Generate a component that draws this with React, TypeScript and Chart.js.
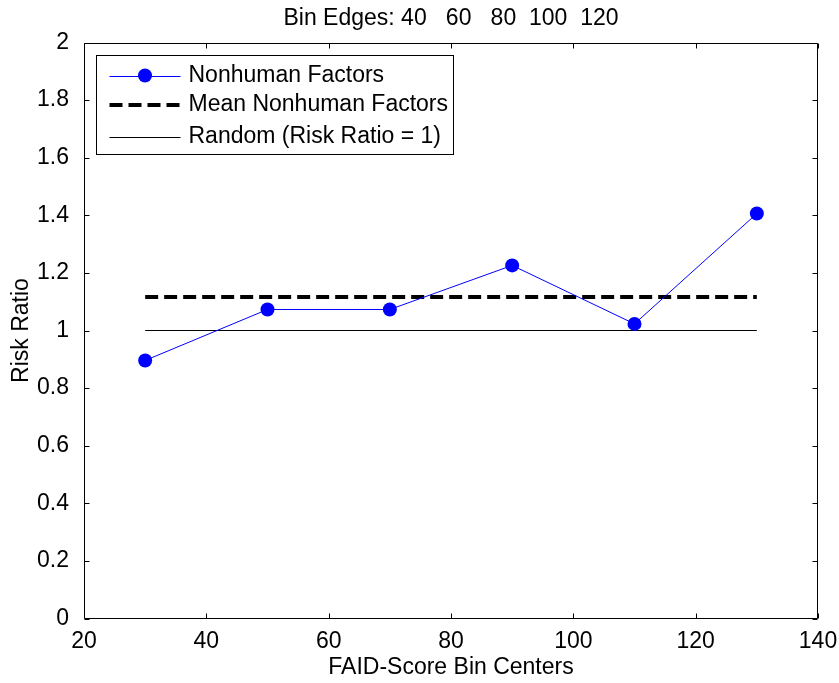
import React, { useEffect, useRef } from 'react';
import { Chart, registerables } from 'chart.js';

Chart.register(...registerables);

// ---- data ----
const binCenters = [30, 50, 70, 90, 110, 130];
const nonhumanRR = [0.896, 1.073, 1.073, 1.226, 1.023, 1.406];
const meanLineX = [30, 130];
const meanLineY = [1.116, 1.116];
const randomLineX = [30, 130];
const randomLineY = [1, 1];
const legendLabels = ['Nonhuman Factors', 'Mean Nonhuman Factors', 'Random (Risk Ratio = 1)'];
const titleText = 'Bin Edges: 40   60   80  100  120';
const xLabel = 'FAID-Score Bin Centers';
const yLabel = 'Risk Ratio';

const FONT = '"Liberation Sans", Arial, Helvetica, sans-serif';
const FS = 23;
const BLUE = '#0000ff';

const framePlugin = {
  id: 'matlabFrame',
  afterDatasetsDraw(chart: any) {
    const { ctx, chartArea: a, scales } = chart;
    ctx.save();
    ctx.strokeStyle = '#000';
    ctx.lineWidth = 1;
    ctx.setLineDash([]);
    const L = Math.round(a.left) + 0.5;
    const R = Math.round(a.right) - 0.5;
    const T = Math.round(a.top) + 0.5;
    const B = Math.round(a.bottom) - 0.5;
    ctx.beginPath();
    ctx.rect(L, T, R - L, B - T);
    ctx.stroke();
    const len = 5;
    ctx.beginPath();
    scales.x.ticks.forEach((t: any) => {
      const px = Math.round(scales.x.getPixelForValue(t.value)) + 0.5;
      ctx.moveTo(px, B);
      ctx.lineTo(px, B - len);
      ctx.moveTo(px, T);
      ctx.lineTo(px, T + len);
    });
    scales.y.ticks.forEach((t: any) => {
      const py = Math.round(scales.y.getPixelForValue(t.value)) + 0.5;
      ctx.moveTo(L, py);
      ctx.lineTo(L + len, py);
      ctx.moveTo(R, py);
      ctx.lineTo(R - len, py);
    });
    ctx.stroke();

    // legend box
    ctx.font = `${FS}px ${FONT}`;
    const maxW = Math.max(...legendLabels.map((s) => ctx.measureText(s).width));
    const bx = Math.round(a.left + 12) + 0.5;
    const by = Math.round(a.top + 12) + 0.5;
    const bw = Math.round(92 + maxW + 5);
    const bh = 99;
    ctx.fillStyle = '#fff';
    ctx.fillRect(bx, by, bw, bh);
    ctx.strokeStyle = '#000';
    ctx.lineWidth = 1;
    ctx.strokeRect(bx, by, bw, bh);
    const sx0 = bx + 13;
    const sx1 = bx + 84;
    const rows = [by + 20, by + 49.5, by + 81];
    // row 1
    ctx.strokeStyle = BLUE;
    ctx.lineWidth = 1;
    ctx.beginPath();
    ctx.moveTo(sx0, Math.round(rows[0]) + 0.5);
    ctx.lineTo(sx1, Math.round(rows[0]) + 0.5);
    ctx.stroke();
    ctx.fillStyle = BLUE;
    ctx.beginPath();
    ctx.arc((sx0 + sx1) / 2, rows[0], 7, 0, Math.PI * 2);
    ctx.fill();
    // row 2
    ctx.strokeStyle = '#000';
    ctx.lineWidth = 4;
    ctx.setLineDash([13, 6]);
    ctx.beginPath();
    ctx.moveTo(sx0, rows[1]);
    ctx.lineTo(sx1, rows[1]);
    ctx.stroke();
    ctx.setLineDash([]);
    // row 3
    ctx.lineWidth = 1;
    ctx.beginPath();
    ctx.moveTo(sx0, Math.round(rows[2]) + 0.5);
    ctx.lineTo(sx1, Math.round(rows[2]) + 0.5);
    ctx.stroke();
    // labels
    ctx.fillStyle = '#000';
    ctx.textAlign = 'left';
    ctx.textBaseline = 'middle';
    legendLabels.forEach((s, i) => ctx.fillText(s, bx + 92, rows[i]));
    ctx.restore();
  },
};

export default function App() {
  const ref = useRef<HTMLCanvasElement | null>(null);
  useEffect(() => {
    if (!ref.current) return;
    const chart = new Chart(ref.current, {
      type: 'line',
      data: {
        datasets: [
          {
            label: legendLabels[0],
            data: binCenters.map((x, i) => ({ x, y: nonhumanRR[i] })),
            borderColor: BLUE,
            backgroundColor: BLUE,
            borderWidth: 1,
            pointRadius: 7,
            pointBorderWidth: 0,
            pointBackgroundColor: BLUE,
            tension: 0,
            order: 0,
          },
          {
            label: legendLabels[1],
            data: meanLineX.map((x, i) => ({ x, y: meanLineY[i] })),
            borderColor: '#000',
            borderWidth: 4,
            borderDash: [13, 6],
            pointRadius: 0,
            tension: 0,
            order: 1,
          },
          {
            label: legendLabels[2],
            data: randomLineX.map((x, i) => ({ x, y: randomLineY[i] })),
            borderColor: '#000',
            borderWidth: 1,
            pointRadius: 0,
            tension: 0,
            order: 2,
          },
        ],
      },
      options: {
        animation: false,
        responsive: false,
        layout: { padding: { left: 0, right: 21, top: 0, bottom: 0 } },
        plugins: {
          legend: { display: false },
          tooltip: { enabled: false },
          title: {
            display: true,
            text: titleText,
            fullSize: false,
            color: '#000',
            font: { family: FONT, size: FS, weight: 'normal' },
            padding: { top: 5.2, bottom: 9.7 },
          },
        },
        scales: {
          x: {
            type: 'linear',
            min: 20,
            max: 140,
            grid: { display: false },
            border: { display: false },
            ticks: {
              stepSize: 20,
              color: '#000',
              padding: 1,
              font: { family: FONT, size: FS },
              maxRotation: 0,
            },
            title: {
              display: true,
              text: xLabel,
              color: '#000',
              font: { family: FONT, size: FS },
              padding: { top: 0, bottom: 2 },
            },
            afterFit: (s: any) => {
              s.height = 64.5;
            },
          },
          y: {
            type: 'linear',
            min: 0,
            max: 2,
            grid: { display: false },
            border: { display: false },
            ticks: {
              stepSize: 0.2,
              color: '#000',
              padding: 7,
              font: { family: FONT, size: FS },
              callback: (v: any) => String(Number(Number(v).toFixed(2))),
            },
            title: {
              display: true,
              text: yLabel,
              color: '#000',
              font: { family: FONT, size: FS },
              padding: { top: 8, bottom: 0 },
            },
            afterFit: (s: any) => {
              s.width = 84;
            },
          },
        },
      },
      plugins: [framePlugin],
    });
    return () => chart.destroy();
  }, []);
  return (
    <div style={{ position: 'fixed', left: 0, top: 0, width: 839, height: 683, background: '#fff' }}>
      <canvas ref={ref} width={839} height={683} style={{ display: 'block' }} />
    </div>
  );
}
